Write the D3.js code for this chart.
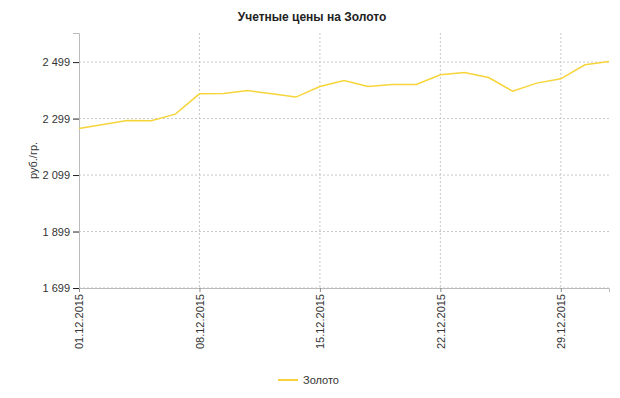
<!DOCTYPE html>
<html>
<head>
<meta charset="utf-8">
<script src="https://cdn.jsdelivr.net/npm/d3@7"></script>
<style>
    body { margin: 0; background: #fff; }
    svg { font-family: "Liberation Sans", Arial, sans-serif; }
    .grid line { stroke: #c8c8c8; stroke-dasharray: 2,2; }
</style>
</head>
<body>
<div id="chart"></div>
<script>
// dates (working days only) and gold accounting prices, rub/gram
const dates = [
    "01.12.2015", "02.12.2015", "03.12.2015", "04.12.2015", "05.12.2015",
    "08.12.2015", "09.12.2015", "10.12.2015", "11.12.2015", "12.12.2015",
    "15.12.2015", "16.12.2015", "17.12.2015", "18.12.2015", "19.12.2015",
    "22.12.2015", "23.12.2015", "24.12.2015", "25.12.2015", "26.12.2015",
    "29.12.2015", "30.12.2015", "31.12.2015"
];
const gold = [
    2263.5, 2278, 2292, 2291, 2314.6,
    2386.6, 2387.7, 2398, 2386.6, 2375,
    2412.5, 2433.8, 2412.5, 2419.6, 2419.6,
    2454, 2462, 2444.4, 2396, 2424.5,
    2439.8, 2489.4, 2501
];
const yTicks = [1699, 1899, 2099, 2299, 2499];
const xTicks = ["01.12.2015", "08.12.2015", "15.12.2015", "22.12.2015", "29.12.2015"];

let width = 620,
    height = 398,
    margin = { top: 33, right: 11, bottom: 110, left: 79 };

const svg = d3
    .select("#chart")
    .append("svg")
    .attr("width", width)
    .attr("height", height);

let x = d3
    .scalePoint()
    .domain(dates)
    .range([margin.left, width - margin.right]);

let y = d3
    .scaleLinear()
    .domain([1699, 2602])
    .range([height - margin.bottom, margin.top]);

// grid
svg.append("g")
    .attr("class", "grid")
    .selectAll("line.h")
    .data(yTicks)
    .join("line")
    .attr("x1", margin.left)
    .attr("x2", width - margin.right)
    .attr("y1", (d) => y(d))
    .attr("y2", (d) => y(d));

svg.append("g")
    .attr("class", "grid")
    .selectAll("line.v")
    .data(xTicks.slice(1))
    .join("line")
    .attr("x1", (d) => x(d))
    .attr("x2", (d) => x(d))
    .attr("y1", margin.top)
    .attr("y2", height - margin.bottom);

// axes
const xAxis = svg.append("g")
    .attr("transform", `translate(0,${height - margin.bottom})`)
    .call(d3.axisBottom(x).tickValues(xTicks).tickSize(4).tickPadding(4));
xAxis.select(".domain").attr("stroke", "#bbb");
xAxis.selectAll(".tick line").attr("stroke", "#888");
xAxis.selectAll("text")
    .attr("transform", "rotate(-90)")
    .attr("text-anchor", "end")
    .attr("x", -6)
    .attr("y", 0)
    .attr("dy", "0.35em")
    .style("font-size", "11px")
    .style("fill", "#333");

const fmt = (v) => d3.format(",")(v).replace(",", " ");
const yAxis = svg.append("g")
    .attr("transform", `translate(${margin.left},0)`)
    .call(d3.axisLeft(y).tickValues(yTicks).tickFormat(fmt).tickSize(6).tickPadding(3));
yAxis.select(".domain").attr("stroke", "#bbb");
yAxis.selectAll(".tick line").attr("stroke", "#222");
yAxis.selectAll("text")
    .style("font-size", "11px")
    .style("fill", "#333");

// line
const line = d3.line()
    .x((d, i) => x(dates[i]))
    .y((d) => y(d));

svg.append("path")
    .datum(gold)
    .attr("fill", "none")
    .attr("stroke", "#f7d53a")
    .attr("stroke-width", 1.5)
    .attr("d", line);

// title
svg.append("text")
    .attr("x", 312)
    .attr("y", 21)
    .attr("text-anchor", "middle")
    .style("font-size", "12px")
    .style("font-weight", "bold")
    .style("fill", "#222")
    .text("Учетные цены на Золото");

// y label
svg.append("text")
    .attr("transform", "rotate(-90)")
    .attr("x", -(margin.top + height - margin.bottom) / 2)
    .attr("y", 37)
    .attr("text-anchor", "middle")
    .style("font-size", "11px")
    .style("fill", "#333")
    .text("руб./гр.");

// legend
svg.append("line")
    .attr("x1", 278)
    .attr("x2", 298)
    .attr("y1", 380)
    .attr("y2", 380)
    .attr("stroke", "#f7d53a")
    .attr("stroke-width", 2);

svg.append("text")
    .attr("x", 303)
    .attr("y", 384)
    .style("font-size", "11px")
    .style("fill", "#333")
    .text("Золото");
</script>
</body>
</html>
